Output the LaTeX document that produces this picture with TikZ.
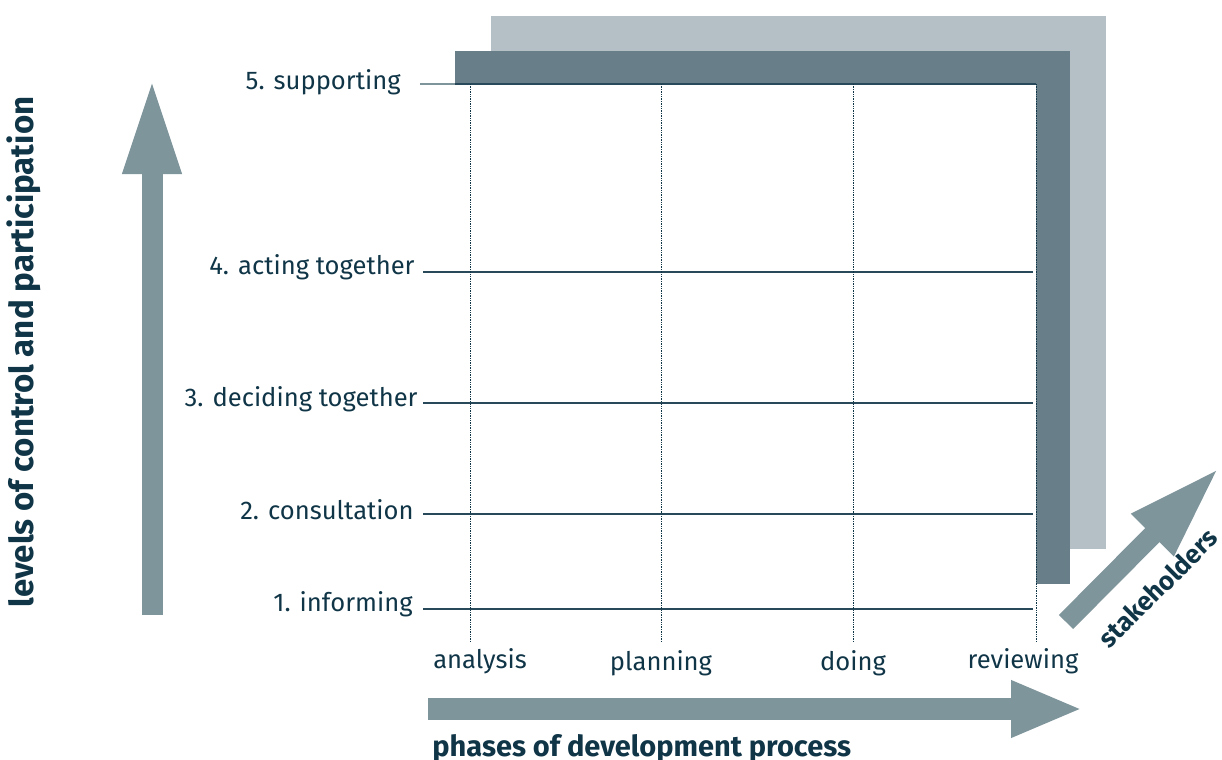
\documentclass[tikz,border=0pt]{standalone}
\usepackage{fontspec}
\setmainfont{Fira Sans}
\usetikzlibrary{arrows.meta}

\definecolor{framedark}{HTML}{687F8A}
\definecolor{framelight}{HTML}{B4C0C5}
\definecolor{arrowgrey}{HTML}{7F959C}
\definecolor{inkblue}{HTML}{0F3547}

\tikzset{
  levellabel/.style={anchor=east, text=inkblue, inner sep=0pt,
    font=\fontsize{12.8}{15}\selectfont},
  phaselabel/.style={anchor=base, text=inkblue, inner sep=0pt,
    font=\fontsize{12.8}{15}\selectfont},
  axistitle/.style={text=inkblue, inner sep=0pt,
    font=\bfseries\fontsize{14.5}{17}\selectfont},
  levelline/.style={draw=inkblue!90, line width=0.55pt},
  phaseline/.style={draw=inkblue, line width=0.5pt, dash pattern=on 0.7pt off 0.5pt},
  bigarrow/.style={draw=arrowgrey, line width=#1}
}

\begin{document}
\begin{tikzpicture}[x=0.5pt, y=-0.5pt]
  \useasboundingbox (0,0) rectangle (1222,760);

  % Frames
  \fill[framelight] (491,16) rectangle (1106,549);
  \fill[framedark] (455,51) rectangle (1070,584);
  \fill[white] (455,84) rectangle (1036,600);

  % Levels
  \foreach \name/\y in {l1/609, l2/514, l3/403, l4/272} {
    \coordinate (\name w) at (423,\y);
    \coordinate (\name e) at (1033,\y);
    \draw[levelline] (\name w) -- (\name e);
  }
  \coordinate (l5w) at (420,84);
  \coordinate (l5e) at (1036,84);
  \draw[levelline, draw=arrowgrey, line width=1.2pt] (l5w) -- (455,84);
  \draw[levelline] (455,84) -- (l5e);

  \node[levellabel] (l5) at (401,82) {5. supporting};
  \node[levellabel] (l4) at (415,267) {4. acting together};
  \node[levellabel] (l3) at (418,399) {3. deciding together};
  \node[levellabel] (l2) at (414,510) {2. consultation};
  \node[levellabel] (l1) at (413,604) {1. informing};

  % Phases
  \foreach \name/\x in {pa/470, pp/661, pd/853, pr/1036} {
    \coordinate (\name t) at (\x,84);
    \coordinate (\name b) at (\x,643);
    \draw[phaseline] (\name t) -- (\name b);
  }

  \node[phaselabel] (analysis) at (480,668) {analysis};
  \node[phaselabel] (planning) at (661,670) {planning};
  \node[phaselabel] (doing) at (853,670) {doing};
  \node[phaselabel] (reviewing) at (1023,668) {reviewing};

  % Arrows
  \coordinate (vstart) at (152,615);
  \coordinate (vtip) at (152,77);
  \draw[bigarrow=10.5pt, -{Triangle[length=48.5pt, width=26.5pt]}] (vstart) -- (vtip);

  \coordinate (hstart) at (428,709);
  \coordinate (htip) at (1083,709);
  \draw[bigarrow=11pt, -{Triangle[length=36pt, width=26pt]}] (hstart) -- (htip);

  \coordinate (dstart) at (1066,622);
  \coordinate (dtip) at (1220,467);
  \draw[bigarrow=10pt, -{Triangle[length=48pt, width=27pt]}] (dstart) -- (dtip);

  % Titles
  \node[axistitle, rotate=90, font=\bfseries\fontsize{16.5}{19}\selectfont] (vtitle) at (24,352) {levels of control and participation};
  \node[axistitle, anchor=base west] (htitle) at (432,756) {phases of development process};
  \node[axistitle, rotate=45, font=\bfseries\fontsize{13}{15}\selectfont] (dtitle) at (1158,588) {stakeholders};
\end{tikzpicture}
\end{document}
